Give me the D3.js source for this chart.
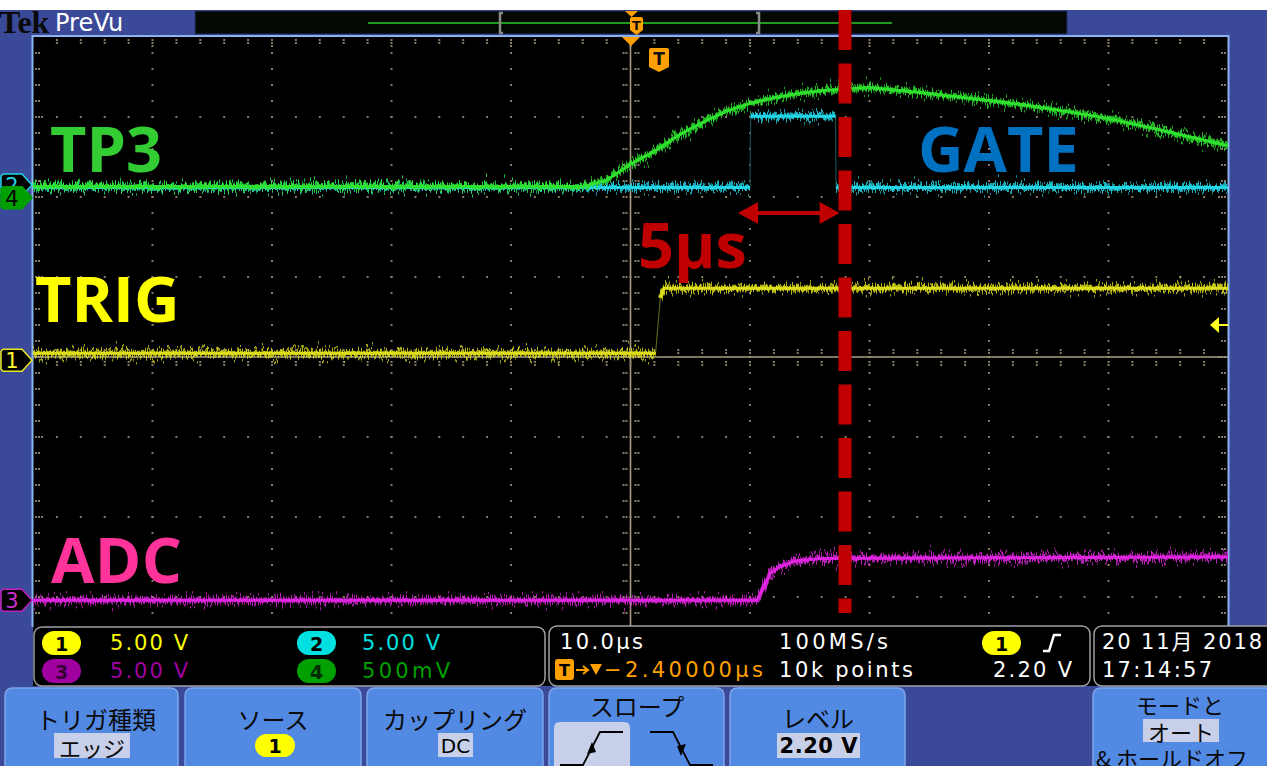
<!DOCTYPE html>
<html><head><meta charset="utf-8">
<script src="https://cdn.jsdelivr.net/npm/d3@7"></script>
<style>body{margin:0;background:#fff}svg{display:block}</style>
</head><body>
<script>
// ---------------- DATA ----------------
const timeDomain = [-50, 50];          // µs (10.0 µs/div, 10 divisions)
const divDomain = [-4, 4];             // vertical divisions
// channel settings: volts/div and ground offset (divisions)
const ch1Set = {vdiv: 5.0, offset: -0.04};
const ch2Set = {vdiv: 5.0, offset: 2.15};
const ch3Set = {vdiv: 5.0, offset: -3.04};
const ch4Set = {vdiv: 0.5, offset: 1.99};
// traces: [time µs, volts]
const ch1Trig = [[-50,0.44],[2.1,0.44],[2.3,2.2],[2.5,3.9],[2.8,4.5],[50,4.5]];
const ch2Gate = [[-50,-0.15],[10.0,-0.15],[10.05,4.3],[17.15,4.3],[17.2,-0.15],[50,-0.15]];
const ch3Adc  = [[-50,0.0],[10.6,0.0],[11.1,0.75],[11.7,1.7],[12.5,2.1],[13.8,2.45],[15.9,2.6],[30,2.65],[50,2.7]];
const ch4Tp3  = [[-50,0.07],[-4,0.07],[-2,0.11],[0,0.21],[2,0.29],[4,0.39],[6,0.47],[8,0.54],[10,0.59],[12,0.625],[14,0.65],[16,0.67],[18,0.68],[20,0.69],[24,0.66],[28,0.625],[32,0.59],[36,0.545],[40,0.495],[44,0.43],[50,0.325]];
const trigLevel = 2.2;                 // V on ch1
const cursorTime = 17.95;              // red dashed marker (µs)
const arrowSpan = [9.0, 17.5];         // "5µs" arrow (µs)
const scaleLabels = [["1","5.00 V"],["2","5.00 V"],["3","5.00 V"],["4","500mV"]];
const timebase = "10.0µs", sampleRate = "100MS/s", delay = "−2.40000µs", recLen = "10k points", trigLevelTxt = "2.20 V";
const dateTxt = "20 11月 2018", timeTxt = "17:14:57";
const buttons = [
  {title:"トリガ種類", value:"エッジ"},
  {title:"ソース", value:"1"},
  {title:"カップリング", value:"DC"},
  {title:"スロープ", value:null},
  {title:"レベル", value:"2.20 V"},
  {title:"モードと", value:"オート", extra:"& ホールドオフ"}
];

// ---------------- LAYOUT ----------------
const W = 1267, H = 766;
const gx0 = 33, gx1 = 1228, gy0 = 37, gy1 = 677, gClip = 627;
const BLUE = "#3b4a98", BTN = "#5289e2", HL = "#c8cfe8";
const x = d3.scaleLinear(timeDomain, [gx0, gx1]);
const y = d3.scaleLinear(divDomain, [gy1, gy0]);
const chY = (s, v) => y(s.offset + v / s.vdiv);

const svg = d3.select("body").append("svg").attr("width", W).attr("height", H)
  .attr("font-family", "DejaVu Sans");
const defs = svg.append("defs");
defs.append("clipPath").attr("id","gclip").append("rect")
  .attr("x",gx0).attr("y",gy0).attr("width",gx1-gx0).attr("height",gClip-gy0);
function noiseFilter(id, freq, scale, seed){
  const f = defs.append("filter").attr("id",id).attr("filterUnits","userSpaceOnUse")
    .attr("x",0).attr("y",0).attr("width",W).attr("height",H);
  f.append("feTurbulence").attr("type","fractalNoise").attr("baseFrequency",freq)
    .attr("numOctaves",2).attr("seed",seed).attr("result","t");
  f.append("feColorMatrix").attr("in","t").attr("type","matrix")
    .attr("values","1.4 0 0 0 -0.2  0 0 0 0 0.5  0 0 0 0 0  0 0 0 0 1").attr("result","m");
  f.append("feDisplacementMap").attr("in","SourceGraphic").attr("in2","m")
    .attr("scale",scale).attr("xChannelSelector","G").attr("yChannelSelector","R");
}
noiseFilter("nz1","0.8 0.02",12,3);
noiseFilter("nz2","0.5 0.01",24,7);

svg.append("rect").attr("width",W).attr("height",H).attr("fill","#fff");
svg.append("rect").attr("y",10).attr("width",W).attr("height",H-10).attr("fill",BLUE);

// ---- top bar ----
svg.append("text").attr("x",-1).attr("y",33).attr("font-family","Liberation Serif")
  .attr("font-weight","bold").attr("font-size",32).attr("fill","#0a0a0a").text("Tek");
svg.append("text").attr("x",55).attr("y",31).attr("font-size",24).attr("fill","#fff").text("PreVu");
svg.append("rect").attr("x",195).attr("y",11).attr("width",872).attr("height",23)
  .attr("fill","#030803").attr("stroke","#26306a");
svg.append("line").attr("x1",368).attr("x2",892).attr("y1",23).attr("y2",23)
  .attr("stroke","#1f9a1f").attr("stroke-width",2);
[500,759].forEach((bx,i)=>{
  const d = i===0 ? 1 : -1;
  svg.append("path").attr("d",`M${bx+3*d},13 L${bx},13 L${bx},33 L${bx+3*d},33`)
    .attr("fill","none").attr("stroke","#8a8a8a").attr("stroke-width",2.5);
});
const OR = "#ffa000";
svg.append("path").attr("d","M625,11 L638,11 L631.5,17 Z").attr("fill",OR);
function tBadge(cx, top, w, h, fs){
  const l = cx - w/2, r = cx + w/2, b = top + h;
  svg.append("path").attr("d",`M${l},${top+2} Q${l},${top} ${l+2},${top} L${r-2},${top} Q${r},${top} ${r},${top+2} L${r},${b-5} L${cx},${b} L${l},${b-5} Z`)
    .attr("fill",OR);
  svg.append("text").attr("x",cx).attr("y",top+h*0.45).attr("text-anchor","middle")
    .attr("dominant-baseline","central").attr("font-weight","bold").attr("font-size",fs)
    .attr("fill","#111").text("T");
}
tBadge(636.5, 17, 13, 18, 13);

// ---- graticule ----
svg.append("rect").attr("x",gx0).attr("y",gy0).attr("width",gx1-gx0).attr("height",gClip-gy0).attr("fill","#000");
const grid = svg.append("g").attr("clip-path","url(#gclip)").attr("fill","#857b66");
const dx = (gx1-gx0)/50, dy = (gy1-gy0)/40;
for (let i=1;i<10;i++){ if(i===5) continue; const gx = gx0+i*(gx1-gx0)/10;
  for (let k=1;k<40;k++) grid.append("rect").attr("x",gx-1).attr("y",gy0+k*dy-1).attr("width",2).attr("height",2); }
for (let j=1;j<8;j++){ if(j===4) continue; const gy = gy0+j*80;
  for (let m=1;m<50;m++) grid.append("rect").attr("x",gx0+m*dx-1).attr("y",gy-1).attr("width",2).attr("height",2); }
// border ticks
for (let m=1;m<50;m++){ const tx = gx0+m*dx, L = (m%5===0)?8:5;
  for (let t=2;t<=L;t+=3) grid.append("rect").attr("x",tx-1).attr("y",gy0+t).attr("width",2).attr("height",2); }
for (let k=1;k<40;k++){ const ty = gy0+k*dy, L = (k%5===0)?8:5;
  for (let t=2;t<=L;t+=3){ grid.append("rect").attr("x",gx0+t).attr("y",ty-1).attr("width",2).attr("height",2);
    grid.append("rect").attr("x",gx1-t-2).attr("y",ty-1).attr("width",2).attr("height",2);} }
// center lines with ticks
const cX = x(0), cY = y(0);
grid.append("line").attr("x1",cX).attr("x2",cX).attr("y1",gy0).attr("y2",gClip).attr("stroke","#a99d84").attr("stroke-width",1.6);
grid.append("line").attr("x1",gx0).attr("x2",gx1).attr("y1",cY).attr("y2",cY).attr("stroke","#a99d84").attr("stroke-width",1.6);
for (let k=1;k<40;k++){ const ty=gy0+k*dy; [-8,-5,4,7].forEach(o=>grid.append("rect").attr("x",cX+o).attr("y",ty-1).attr("width",2).attr("height",2)); }
for (let m=1;m<50;m++){ const tx=gx0+m*dx; [-8,-5,4,7].forEach(o=>grid.append("rect").attr("x",tx-1).attr("y",cY+o).attr("width",2).attr("height",2)); }
// border
svg.append("path").attr("d",`M${gx0-0.5},${gClip} L${gx0-0.5},${gy0-1} L${gx1+0.5},${gy0-1} L${gx1+0.5},${gClip}`)
  .attr("fill","none").attr("stroke","#8db3ee").attr("stroke-width",2);
svg.append("path").attr("d",`M622,${gy0} L640,${gy0} L631,${gy0+9} Z`).attr("fill",OR);
tBadge(659, 48, 20, 24, 17);

// ---- traces ----
const traces = svg.append("g").attr("clip-path","url(#gclip)");
function drawTrace(data, set, col, dim){
  const pts = data.map(d=>[x(d[0]), chY(set,d[1])]);
  const line = d3.line();
  traces.append("path").attr("d",line(pts)).attr("fill","none").attr("stroke",dim).attr("stroke-width",1.2);
  const segs=[]; let cur=[pts[0]];
  for (let i=1;i<pts.length;i++){ const a=pts[i-1], b=pts[i];
    if (Math.abs(b[1]-a[1]) > 4*Math.abs(b[0]-a[0])+3){ segs.push(cur); cur=[b]; } else cur.push(b); }
  segs.push(cur);
  segs.filter(s=>s.length>1).forEach(s=>{
    traces.append("path").attr("d",line(s)).attr("fill","none").attr("stroke",col).attr("stroke-width",2.5).attr("opacity",0.7).attr("filter","url(#nz2)");
    traces.append("path").attr("d",line(s)).attr("fill","none").attr("stroke",col).attr("stroke-width",5).attr("opacity",0.8).attr("filter","url(#nz1)");
    traces.append("path").attr("d",line(s)).attr("fill","none").attr("stroke",col).attr("stroke-width",3);
  });
}
drawTrace(ch1Trig, ch1Set, "#dede1c", "#5e5e18");
drawTrace(ch3Adc, ch3Set, "#e025e0", "#702070");
drawTrace(ch2Gate, ch2Set, "#22d4e4", "#124a50");
drawTrace(ch4Tp3, ch4Set, "#2fe02f", "#1a8a1a");

// trigger level arrow (right)
const ty = chY(ch1Set, trigLevel);
svg.append("path").attr("d",`M1210,${ty} L1219,${ty-8} L1219,${ty+8} Z`).attr("fill","#ffff20");
svg.append("line").attr("x1",1218).attr("x2",1228).attr("y1",ty).attr("y2",ty).attr("stroke","#ffff20").attr("stroke-width",2);

// ---- channel markers ----
function marker(set, fill, stroke, label, tcol){
  const cy = y(set.offset);
  svg.append("path").attr("d",`M3,${cy-11} L22,${cy-11} L32,${cy} L22,${cy+11} L3,${cy+11} L1,${cy+9} L1,${cy-9} Z`)
    .attr("fill",fill).attr("stroke",stroke).attr("stroke-width",1.5);
  svg.append("text").attr("x",12).attr("y",cy+1).attr("text-anchor","middle").attr("dominant-baseline","central")
    .attr("font-size",21).attr("fill",tcol).text(label);
}
marker(ch2Set, "#000", "#22d4e4", "2", "#22d4e4");
marker(ch4Set, "#00a000", "#00a000", "4", "#000");
marker(ch1Set, "#000", "#e8e820", "1", "#ffff30");
marker(ch3Set, "#000", "#c020c0", "3", "#d030d0");

// ---- annotations ----
const ann = svg.append("g").attr("font-family","Open Sans").attr("font-weight",700).attr("font-size",63);
ann.append("text").attr("x",50).attr("y",172).attr("fill","#33cc33").text("TP3");
ann.append("text").attr("x",918).attr("y",172).attr("fill","#0070c0").text("GATE");
ann.append("text").attr("x",35).attr("y",322).attr("fill","#ffff00").text("TRIG");
ann.append("text").attr("x",51).attr("y",583).attr("fill","#ff3399").attr("textLength",131).text("ADC");
ann.append("text").attr("x",638).attr("y",268).attr("fill","#c00000").text("5μs");
const RED = "#c00000";
const cx = x(cursorTime);
svg.append("line").attr("x1",cx).attr("x2",cx).attr("y1",10).attr("y2",613)
  .attr("stroke",RED).attr("stroke-width",13).attr("stroke-dasharray","40,13.5");
const ax0 = x(arrowSpan[0]), ax1 = x(arrowSpan[1]), ay = 213;
svg.append("line").attr("x1",ax0+15).attr("x2",ax1-15).attr("y1",ay).attr("y2",ay).attr("stroke",RED).attr("stroke-width",4);
svg.append("path").attr("d",`M${ax0},${ay} L${ax0+20},${ay-11} L${ax0+20},${ay+11} Z M${ax1},${ay} L${ax1-20},${ay-11} L${ax1-20},${ay+11} Z`).attr("fill",RED);

// ---- readout ----
function box(x0,x1,y0,y1){
  svg.append("rect").attr("x",x0).attr("y",y0).attr("width",x1-x0).attr("height",y1-y0).attr("rx",8)
    .attr("fill","#000").attr("stroke","#a0a0a0").attr("stroke-width",1.5);
}
svg.append("rect").attr("x",gx0).attr("y",gClip).attr("width",W-gx0).attr("height",59).attr("fill","#000");
box(34,545,627,686); box(549,1090,626,686); box(1094,1275,626,686);
function pill(x0,yc,fill,label,tcol){
  svg.append("rect").attr("x",x0).attr("y",yc-12).attr("width",39).attr("height",24).attr("rx",12).attr("fill",fill);
  svg.append("text").attr("x",x0+19.5).attr("y",yc+1).attr("text-anchor","middle").attr("dominant-baseline","central")
    .attr("font-size",19).attr("font-weight","bold").attr("fill",tcol).text(label);
}
function rtxt(x0,yb,s,col,len,anchor){
  const t = svg.append("text").attr("x",x0).attr("y",yb).attr("font-size",21).attr("fill",col).text(s);
  if (len) t.attr("textLength",len).attr("lengthAdjust","spacing");
  if (anchor) t.attr("text-anchor",anchor);
  return t;
}
const chCols = [["#ffff00","#ffff00","#000"],["#00e0e0","#00e0e0","#000"],["#a000a0","#a000a0","#3a003a"],["#00a000","#00a000","#002a00"]];
const pos = [[42,110,643],[297,362,643],[42,110,671],[297,362,671]];
scaleLabels.forEach((s,i)=>{
  pill(pos[i][0], pos[i][2], chCols[i][1], s[0], chCols[i][2]);
  rtxt(pos[i][1], pos[i][2]+7, s[1], chCols[i][0], s[1]==="500mV"?88:78);
});
rtxt(560,649,timebase,"#fff",83);
rtxt(779,649,sampleRate,"#fff",109);
rtxt(779,677,recLen,"#fff",134);
rtxt(1072,677,trigLevelTxt,"#fff",79,"end");
pill(982,643,"#ffff00","1","#000");
svg.append("path").attr("d","M1043,651 L1049,651 L1054,635 L1061,635").attr("fill","none").attr("stroke","#fff").attr("stroke-width",2.5);
svg.append("rect").attr("x",555).attr("y",659).attr("width",19).attr("height",21).attr("rx",3).attr("fill",OR);
svg.append("text").attr("x",564.5).attr("y",670).attr("text-anchor","middle").attr("dominant-baseline","central")
  .attr("font-size",16).attr("font-weight","bold").attr("fill","#000").text("T");
svg.append("path").attr("d","M576,670 L587,670 M583,666 L588,670 L583,674").attr("fill","none").attr("stroke",OR).attr("stroke-width",2);
svg.append("path").attr("d","M590,664 L602,664 L596,675 Z").attr("fill",OR);
rtxt(604,677,delay,OR,159);
svg.append("text").attr("x",1102).attr("y",649).attr("font-size",21).attr("fill","#fff")
  .attr("font-family","DejaVu Sans, Noto Sans CJK JP").attr("textLength",160).attr("lengthAdjust","spacing").text(dateTxt);
rtxt(1102,677,timeTxt,"#fff",110);

// ---- buttons ----
const btnX = [[5,178],[185,361],[367,543],[549,724],[730,905],[1093,1290]];
const bg = svg.append("g").attr("font-family","Noto Sans CJK JP");
function btn(x0,x1){
  bg.append("path").attr("d",`M${x0},${H} L${x0},${688+8} Q${x0},688 ${x0+8},688 L${x1-8},688 Q${x1},688 ${x1},${688+8} L${x1},${H}`)
    .attr("fill",BTN).attr("stroke","#7ea6ec").attr("stroke-width",1.5);
}
function jtxt(cx,cy,s,size,weight){
  return bg.append("text").attr("x",cx).attr("y",cy).attr("text-anchor","middle").attr("dominant-baseline","central")
    .attr("font-size",size||24).attr("font-weight",weight||400).attr("fill","#0a0a0a").text(s);
}
function hl(x0,x1,y0,y1){ bg.append("rect").attr("x",x0).attr("y",y0).attr("width",x1-x0).attr("height",y1-y0).attr("fill",HL); }
btnX.forEach(b=>btn(b[0],b[1]));
// 1
jtxt(96,718,buttons[0].title); hl(54,130,733,758); jtxt(92,746.5,buttons[0].value,22);
// 2
jtxt(273,718,buttons[1].title);
bg.append("rect").attr("x",255).attr("y",734).attr("width",40).attr("height",23).attr("rx",11.5).attr("fill","#ffff00");
bg.append("text").attr("x",275).attr("y",746).attr("text-anchor","middle").attr("dominant-baseline","central")
  .attr("font-family","DejaVu Sans").attr("font-size",19).attr("font-weight","bold").text(buttons[1].value);
// 3
jtxt(455,718,buttons[2].title); hl(438,473,733,757);
bg.append("text").attr("x",455.5).attr("y",746).attr("text-anchor","middle").attr("dominant-baseline","central")
  .attr("font-family","DejaVu Sans").attr("font-size",20).attr("fill","#000").text(buttons[2].value);
// 4 slope
jtxt(637,705,buttons[3].title);
bg.append("path").attr("d","M554,766 L554,728 Q554,722 560,722 L624,722 Q630,722 630,728 L630,766 Z").attr("fill",HL);
bg.append("path").attr("d","M560,765 L583,765 L600,732 L623,732 M650,732 L673,732 L690,765 L713,765").attr("fill","none").attr("stroke","#000").attr("stroke-width",1.8);
bg.append("path").attr("d","M592,742 L587,754 L596,752 Z M681,756 L686,744 L677,746 Z").attr("fill","#000");
// 5 level
jtxt(818,717,buttons[4].title); hl(777,860,733,758);
bg.append("text").attr("x",818.5).attr("y",746).attr("text-anchor","middle").attr("dominant-baseline","central")
  .attr("font-family","DejaVu Sans").attr("font-size",21).attr("font-weight","bold").attr("fill","#000")
  .attr("textLength",78).attr("lengthAdjust","spacing").text(buttons[4].value);
// 6 mode
jtxt(1180,704,buttons[5].title,22); hl(1143,1219,719,742); jtxt(1181,730.5,buttons[5].value,22);
bg.append("text").attr("x",1096).attr("y",757).attr("dominant-baseline","central").attr("font-size",22)
  .attr("fill","#0a0a0a").text(buttons[5].extra);
</script>
</body></html>
